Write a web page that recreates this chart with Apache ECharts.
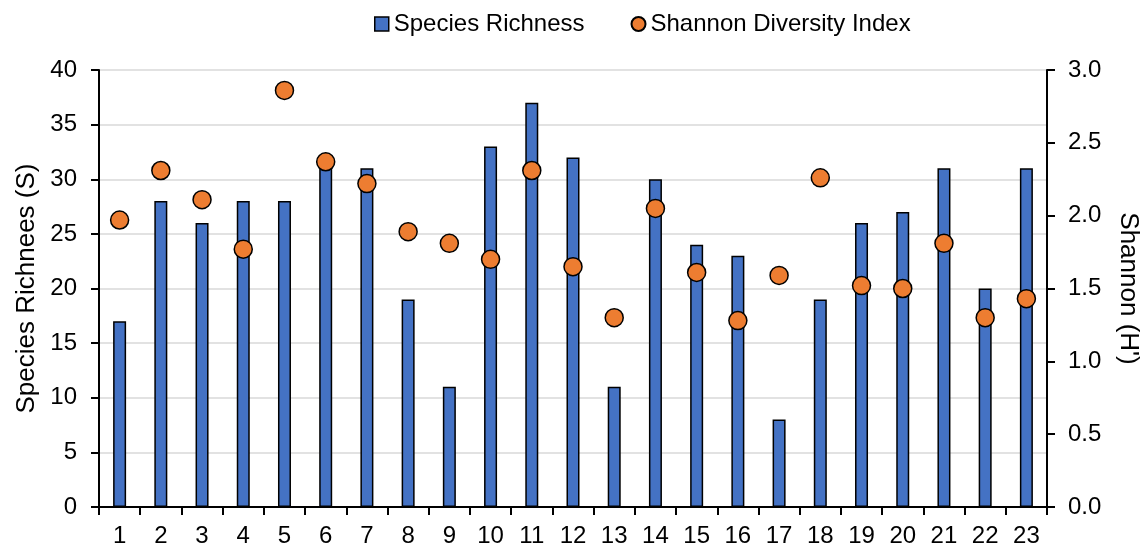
<!DOCTYPE html>
<html>
<head>
<meta charset="utf-8">
<script src="https://cdn.jsdelivr.net/npm/echarts@6/dist/echarts.min.js"></script>
<style>html,body{margin:0;padding:0;background:#fff}#c{width:1145px;height:549px}</style>
</head>
<body>
<div id="c"></div>
<script>
const categories = ['1','2','3','4','5','6','7','8','9','10','11','12','13','14','15','16','17','18','19','20','21','22','23'];
const richness = [17, 28, 26, 28, 28, 32, 31, 19, 11, 33, 37, 32, 11, 30, 24, 23, 8, 19, 26, 27, 31, 20, 31];
const shannon = [1.97, 2.31, 2.11, 1.77, 2.86, 2.37, 2.22, 1.89, 1.81, 1.70, 2.31, 1.65, 1.30, 2.05, 1.61, 1.28, 1.59, 2.26, 1.52, 1.50, 1.81, 1.30, 1.43];

const font = 'Liberation Sans, Arial, sans-serif';
const fs = 24;
const nfs = 26;
const chart = echarts.init(document.getElementById('c'), null, {renderer: 'canvas'});
chart.setOption({
  animation: false,
  textStyle: {fontFamily: font},
  legend: {
    top: 7, left: 369,
    itemWidth: 14, itemHeight: 14, itemGap: 46,
    textStyle: {fontSize: fs, color: '#000', fontFamily: font},
    data: [
      {name: 'Species Richness', icon: 'path://M0,0L10,0L10,10L0,10Z', itemStyle: {borderWidth: 1.5, borderColor: '#000'}},
      {name: 'Shannon Diversity Index', icon: 'circle'}
    ]
  },
  grid: {left: 99, right: 98, top: 70, bottom: 42, containLabel: false, outerBoundsMode: 'none'},
  xAxis: {
    type: 'category', data: categories, boundaryGap: true,
    axisLine: {lineStyle: {color: '#000', width: 2}},
    axisTick: {show: true, length: 8, lineStyle: {color: '#000', width: 2}},
    axisLabel: {fontSize: fs, color: '#000', margin: 17, fontFamily: font, interval: 0}
  },
  yAxis: [{
    type: 'value', min: 0, max: 40, interval: 5,
    name: 'Species Richnees (S)', nameLocation: 'middle', nameGap: 56, nameRotate: 90,
    nameTextStyle: {fontSize: nfs, color: '#000', fontFamily: font},
    axisLine: {show: true, lineStyle: {color: '#000', width: 2}},
    axisTick: {show: true, inside: false, length: 8, lineStyle: {color: '#000', width: 2}},
    axisLabel: {fontSize: fs, color: '#000', margin: 22, fontFamily: font},
    splitLine: {show: true, lineStyle: {color: '#d9d9d9', width: 1.5}}
  }, {
    type: 'value', min: 0, max: 3, interval: 0.5, position: 'right',
    name: "Shannon (H')", nameLocation: 'middle', nameGap: 68, nameRotate: -90,
    nameTextStyle: {fontSize: nfs, color: '#000', fontFamily: font},
    axisLine: {show: true, lineStyle: {color: '#000', width: 2}},
    axisTick: {show: true, inside: false, length: 8, lineStyle: {color: '#000', width: 2}},
    axisLabel: {fontSize: fs, color: '#000', margin: 21, fontFamily: font, formatter: v => v.toFixed(1)},
    splitLine: {show: false}
  }],
  series: [{
    name: 'Species Richness', type: 'bar', yAxisIndex: 0, data: richness,
    barWidth: 13,
    itemStyle: {color: '#4472C4', borderColor: '#000', borderWidth: 1.5}
  }, {
    name: 'Shannon Diversity Index', type: 'scatter', yAxisIndex: 1, data: shannon,
    symbol: 'circle', symbolSize: 18,
    itemStyle: {color: '#ED7D31', borderColor: '#000', borderWidth: 1.5, opacity: 1}
  }]
});
</script>
</body>
</html>
